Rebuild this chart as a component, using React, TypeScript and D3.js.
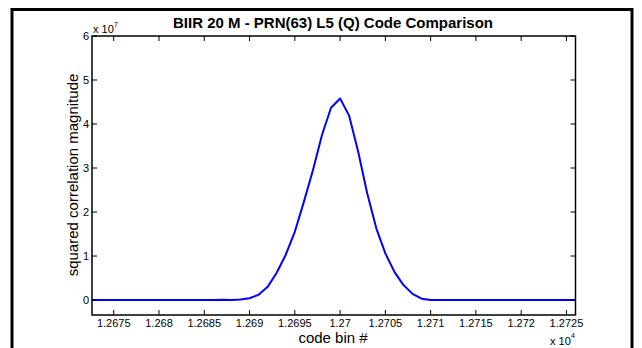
import React from "react";
import * as d3 from "d3";

const bins: number[] = d3.range(12672, 12727);
const values: number[] = [
  0, 0, 0, 0, 0, 0, 0, 0, 0, 0, 0, 0, 0, 0, 0, // 12672-12686
  0.005, 0.0, 0.01, 0.04, 0.12, 0.3, 0.62, 1.03, 1.55, 2.23, 2.95, 3.75, 4.37, // 12687-12699
  4.58, // 12700
  4.19, 3.37, 2.42, 1.63, 1.06, 0.64, 0.34, 0.14, 0.03, 0.0, // 12701-12710
  0, 0, 0, 0, 0, 0, 0, 0, 0, 0, 0, 0, 0, 0, 0, 0, // 12711-12726
];
const xTicks: number[] = [12675, 12680, 12685, 12690, 12695, 12700, 12705, 12710, 12715, 12720, 12725];
const xTickLabels: string[] = ["1.2675", "1.268", "1.2685", "1.269", "1.2695", "1.27", "1.2705", "1.271", "1.2715", "1.272", "1.2725"];
const yTicks: number[] = [0, 1, 2, 3, 4, 5, 6];
const title = "BIIR 20 M - PRN(63) L5 (Q) Code Comparison";
const xLabel = "code bin #";
const yLabel = "squared correlation magnitude";

export default function App() {
  const L = 92, R = 575.5, T = 36, B = 315;
  const x = d3.scaleLinear().domain([12672.6, 12726]).range([L, R]);
  const y = d3.scaleLinear().domain([-0.34, 6]).range([B, T]);
  const pts = bins.map((b, i) => [b, values[i]] as [number, number]);
  const line = d3.line<[number, number]>().x((d) => x(d[0])).y((d) => y(d[1]))(pts) || "";
  const font = "'Liberation Sans', Arial, Helvetica, sans-serif";
  const tl = 5;
  return (
    <svg width={642} height={348} style={{ position: "fixed", left: 0, top: 0, background: "#fff" }} fontFamily={font}>
      <rect x={0} y={0} width={642} height={348} fill="#fff" />
      <rect x={12} y={9.5} width={620} height={400} fill="none" stroke="#000" strokeWidth={3} />
      <defs>
        <clipPath id="plotclip">
          <rect x={L} y={T} width={R - L} height={B - T} />
        </clipPath>
      </defs>
      <path d={line} fill="none" stroke="#0000ff" strokeWidth={2} clipPath="url(#plotclip)" strokeLinejoin="round" />
      {/* axes box */}
      <rect x={L} y={T} width={R - L} height={B - T} fill="none" stroke="#000" strokeWidth={1.5} />
      {xTicks.map((t, i) => (
        <g key={"x" + t}>
          <line x1={x(t)} x2={x(t)} y1={B} y2={B - tl} stroke="#000" strokeWidth={1} />
          <line x1={x(t)} x2={x(t)} y1={T} y2={T + tl} stroke="#000" strokeWidth={1} />
          <text x={x(t)} y={327} fontSize={11} textAnchor="middle" fill="#000">{xTickLabels[i]}</text>
        </g>
      ))}
      {yTicks.map((t) => (
        <g key={"y" + t}>
          <line x1={L} x2={L + tl} y1={y(t)} y2={y(t)} stroke="#000" strokeWidth={1} />
          <line x1={R} x2={R - tl} y1={y(t)} y2={y(t)} stroke="#000" strokeWidth={1} />
          <text x={89} y={y(t) + 4} fontSize={11} textAnchor="end" fill="#000">{t}</text>
        </g>
      ))}
      <text x={93} y={33} fontSize={11} fill="#000">x 10</text>
      <text x={114} y={27} fontSize={7} fill="#000">7</text>
      <text x={550} y={345} fontSize={11} fill="#000">x 10</text>
      <text x={571} y={338} fontSize={7} fill="#000">4</text>
      <text x={333} y={28} fontSize={15} fontWeight="bold" textAnchor="middle" fill="#000">{title}</text>
      <text x={333} y={343} fontSize={15} textAnchor="middle" fill="#000">{xLabel}</text>
      <text transform="translate(78,175) rotate(-90)" fontSize={15} textAnchor="middle" fill="#000">{yLabel}</text>
    </svg>
  );
}
